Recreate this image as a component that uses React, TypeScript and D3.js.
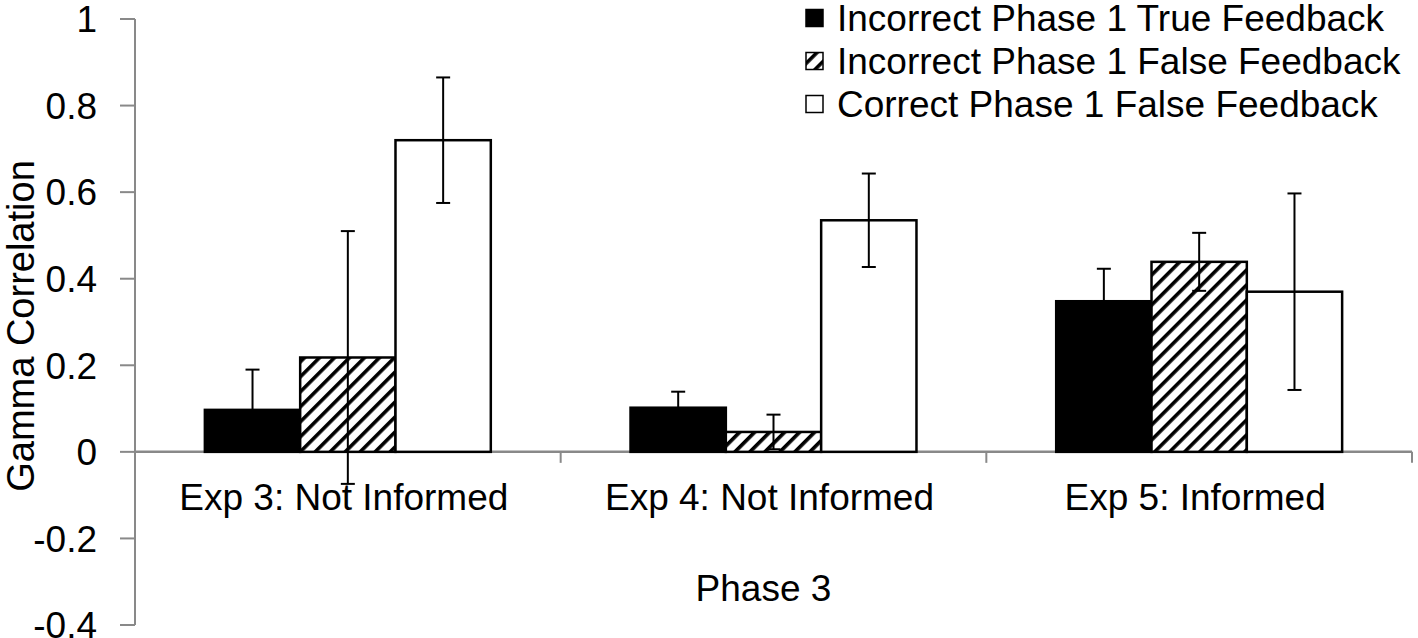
import * as d3 from 'd3';
import React from 'react';

const categories = ['Exp 3: Not Informed', 'Exp 4: Not Informed', 'Exp 5: Informed'];
const seriesNames = [
  'Incorrect Phase 1 True Feedback',
  'Incorrect Phase 1 False Feedback',
  'Correct Phase 1 False Feedback',
];
// means per series, one entry per category
const trueFeedback = [0.097, 0.102, 0.348];
const incorrectFalse = [0.218, 0.046, 0.439];
const correctFalse = [0.72, 0.535, 0.37];
// error bar half-widths
const trueFeedbackErr = [0.093, 0.037, 0.075];
const incorrectFalseErr = [0.292, 0.04, 0.067];
const correctFalseErr = [0.145, 0.108, 0.227];
const yTicks = [-0.4, -0.2, 0, 0.2, 0.4, 0.6, 0.8, 1];

const width = 1418;
const height = 638;
const marginLeft = 135;
const marginRight = 6;
const marginTop = 19;
const marginBottom = 13;
const font = '"Liberation Sans", Arial, sans-serif';
const axisColor = '#898989';

const fills = ['#000', 'url(#hatch)', '#fff'];

export default function App() {
  const x0 = d3.scaleBand<string>()
    .domain(categories)
    .range([marginLeft, width - marginRight])
    .padding(0);

  const x1 = d3.scaleBand<string>()
    .domain(seriesNames)
    .range([0, x0.bandwidth()])
    .paddingInner(0)
    .paddingOuter(0.733);

  const y = d3.scaleLinear()
    .domain([-0.4, 1])
    .range([height - marginBottom, marginTop]);

  const values = [trueFeedback, incorrectFalse, correctFalse];
  const errors = [trueFeedbackErr, incorrectFalseErr, correctFalseErr];

  const bars = categories.flatMap((c, ci) =>
    seriesNames.map((s, si) => ({
      cat: c,
      series: s,
      si,
      value: values[si][ci],
      err: errors[si][ci],
    })));

  const xEnd = width - marginRight;
  const bandEdges = [...categories.map(c => x0(c)!), xEnd];
  const midX = (marginLeft + xEnd) / 2;

  return (
    <svg width={width} height={height} style={{ position: 'absolute', left: 0, top: 0, background: '#fff' }}
      fontFamily={font}>
      <defs>
        <pattern id="hatch" patternUnits="userSpaceOnUse" width={10.6} height={10.6}
          patternTransform="rotate(45)">
          <rect width={10.6} height={10.6} fill="#fff" />
          <line x1={1.8} y1={0} x2={1.8} y2={10.6} stroke="#000" strokeWidth={3.6} />
        </pattern>
      </defs>

      {/* y axis */}
      <line x1={marginLeft} x2={marginLeft} y1={y(1)} y2={y(-0.4)} stroke={axisColor} strokeWidth={2} />
      {yTicks.map(t => (
        <g key={t}>
          <line x1={marginLeft - 15} x2={marginLeft} y1={y(t)} y2={y(t)} stroke={axisColor} strokeWidth={2} />
          <text x={97} y={y(t)} dy="0.36em" textAnchor="end" fontSize={37} fill="#000">
            {String(t)}
          </text>
        </g>
      ))}

      {/* x axis at zero */}
      <line x1={marginLeft} x2={xEnd} y1={y(0)} y2={y(0)} stroke={axisColor} strokeWidth={2.5} />
      {bandEdges.slice(1).map((e, i) => (
        <line key={i} x1={e} x2={e} y1={y(0)} y2={y(0) + 11} stroke={axisColor} strokeWidth={2} />
      ))}

      {/* bars */}
      {bars.map((b, i) => {
        const bx = x0(b.cat)! + x1(b.series)!;
        const top = y(Math.max(0, b.value));
        return (
          <rect key={i} x={bx} y={top} width={x1.bandwidth()} height={y(0) - top}
            fill={fills[b.si]} stroke="#000" strokeWidth={2.5} />
        );
      })}

      {/* error bars */}
      {bars.map((b, i) => {
        const cx = x0(b.cat)! + x1(b.series)! + x1.bandwidth() / 2;
        const hi = y(b.value + b.err);
        const lo = y(b.value - b.err);
        return (
          <g key={i} stroke="#000" strokeWidth={2}>
            <line x1={cx} x2={cx} y1={hi} y2={lo} />
            <line x1={cx - 7} x2={cx + 7} y1={hi} y2={hi} />
            <line x1={cx - 7} x2={cx + 7} y1={lo} y2={lo} />
          </g>
        );
      })}

      {/* category labels */}
      {categories.map(c => (
        <text key={c} x={x0(c)! + x0.bandwidth() / 2 - 4} y={510} textAnchor="middle" fontSize={37} fill="#000">
          {c}
        </text>
      ))}

      <text x={midX - 10} y={601} textAnchor="middle" fontSize={37} fill="#000">Phase 3</text>

      <text transform={`translate(34,326) rotate(-90)`} textAnchor="middle" fontSize={38} fill="#000">
        Gamma Correlation
      </text>

      {/* legend */}
      {seriesNames.map((s, i) => (
        <g key={s} transform={`translate(806,${18 + i * 43})`}>
          <rect x={0} y={-8.5} width={17} height={17} fill={fills[i]} stroke="#000" strokeWidth={1.5} />
          <text x={31} y={0} dy="0.36em" fontSize={37} fill="#000">{s}</text>
        </g>
      ))}
    </svg>
  );
}
